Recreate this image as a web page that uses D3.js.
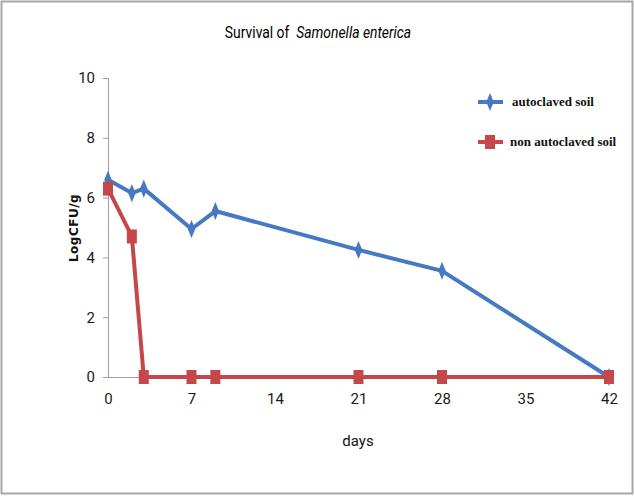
<!DOCTYPE html>
<html>
<head>
<meta charset="utf-8">
<script src="https://cdn.jsdelivr.net/npm/d3@7"></script>
<style>
  body { margin: 0; background: #fff; }
  svg { display: block; }
</style>
</head>
<body>
<svg width="634" height="496"></svg>
<script>
// data
const days = [0, 2, 3, 7, 9, 21, 28, 42];
const autoclaved = [6.6, 6.15, 6.3, 4.95, 5.55, 4.25, 3.55, 0];
const nonAutoclaved = [6.3, 4.7, 0, 0, 0, 0, 0, 0];
const xTicks = [0, 7, 14, 21, 28, 35, 42];
const yTicks = [0, 2, 4, 6, 8, 10];
const seriesNames = ["autoclaved soil", "non autoclaved soil"];

const blue = "#4579c2";
const red = "#c4484a";
const labelFont = "Roboto, 'Open Sans', sans-serif";

const svg = d3.select("svg");

// outer frame
svg.append("rect")
  .attr("x", 1.5).attr("y", 1.5)
  .attr("width", 631).attr("height", 492)
  .attr("fill", "#fff")
  .attr("stroke", "#a6a6a6")
  .attr("stroke-width", 2);

const x = d3.scaleLinear().domain([0, 42]).range([108, 609]);
const y = d3.scaleLinear().domain([0, 10]).range([377, 78]);

// y axis
const yAxis = svg.append("g")
  .attr("transform", "translate(108,0)")
  .call(d3.axisLeft(y).tickValues(yTicks).tickSize(5).tickPadding(8));
yAxis.select(".domain").attr("stroke", "#a0a0a0");
yAxis.selectAll(".tick line").attr("stroke", "#a0a0a0");
yAxis.selectAll("text")
  .attr("font-family", labelFont)
  .attr("font-size", 15)
  .attr("fill", "#1a1a1a");

// x axis
const xAxis = svg.append("g")
  .attr("transform", "translate(0,377)")
  .call(d3.axisBottom(x).tickValues(xTicks).tickSize(0).tickPadding(16));
xAxis.select(".domain").attr("stroke", "#a0a0a0");
xAxis.selectAll("text")
  .attr("font-family", labelFont)
  .attr("font-size", 15)
  .attr("fill", "#1a1a1a");

// title: one text, squeezed horizontally to the narrow look of the reference
const titleG = svg.append("g");
const title = titleG.append("text")
  .attr("x", 0).attr("y", 0)
  .attr("text-anchor", "middle")
  .attr("font-family", labelFont)
  .attr("font-size", 16)
  .attr("fill", "#000");
title.append("tspan").text("Survival of ");
title.append("tspan").attr("font-style", "italic").attr("dx", 4).text("Samonella enterica");
const tw = title.node().getComputedTextLength();
titleG.attr("transform", `translate(318,38) scale(${183 / tw},1)`);

// axis titles
svg.append("text")
  .attr("x", 358).attr("y", 446)
  .attr("text-anchor", "middle")
  .attr("font-family", labelFont)
  .attr("font-size", 15)
  .attr("fill", "#111")
  .text("days");

svg.append("text")
  .attr("transform", "translate(78,228) rotate(-90)")
  .attr("text-anchor", "middle")
  .attr("font-family", "'DejaVu Sans', sans-serif")
  .attr("font-weight", "bold")
  .attr("font-size", 12)
  .attr("letter-spacing", 0.5)
  .attr("fill", "#111")
  .text("LogCFU/g");

const line = d3.line().x(d => x(d[0])).y(d => y(d[1]));
const diamond = d3.symbol().type(d3.symbolDiamond).size(60);

function drawSeries(vals, color, marker) {
  const pts = days.map((d, i) => [d, vals[i]]);
  svg.append("path")
    .datum(pts)
    .attr("d", line)
    .attr("fill", "none")
    .attr("stroke", color)
    .attr("stroke-width", 4)
    .attr("stroke-linejoin", "round");
  const g = svg.append("g");
  if (marker === "diamond") {
    g.selectAll("path").data(pts).join("path")
      .attr("transform", d => `translate(${x(d[0])},${y(d[1])}) scale(0.9,1.25)`)
      .attr("d", diamond)
      .attr("fill", color);
  } else {
    g.selectAll("rect").data(pts).join("rect")
      .attr("x", d => x(d[0]) - 5)
      .attr("y", d => y(d[1]) - 7)
      .attr("width", 10)
      .attr("height", 14)
      .attr("fill", color);
  }
}

drawSeries(autoclaved, blue, "diamond");
drawSeries(nonAutoclaved, red, "square");

// legend
const legend = [
  { name: seriesNames[0], color: blue, marker: "diamond", y: 102, tx: 512 },
  { name: seriesNames[1], color: red, marker: "square", y: 142, tx: 510 }
];
legend.forEach(l => {
  svg.append("line")
    .attr("x1", 478).attr("x2", 503)
    .attr("y1", l.y).attr("y2", l.y)
    .attr("stroke", l.color).attr("stroke-width", 4);
  if (l.marker === "diamond") {
    svg.append("path")
      .attr("transform", `translate(490,${l.y}) scale(0.9,1.25)`)
      .attr("d", diamond)
      .attr("fill", l.color);
  } else {
    svg.append("rect")
      .attr("x", 485).attr("y", l.y - 7)
      .attr("width", 10).attr("height", 14)
      .attr("fill", l.color);
  }
  svg.append("text")
    .attr("x", l.tx).attr("y", l.y)
    .attr("dy", "0.32em")
    .attr("font-family", "'Liberation Serif', serif")
    .attr("font-weight", "bold")
    .attr("font-size", 13)
    .attr("fill", "#111")
    .text(l.name);
});
</script>
</body>
</html>
